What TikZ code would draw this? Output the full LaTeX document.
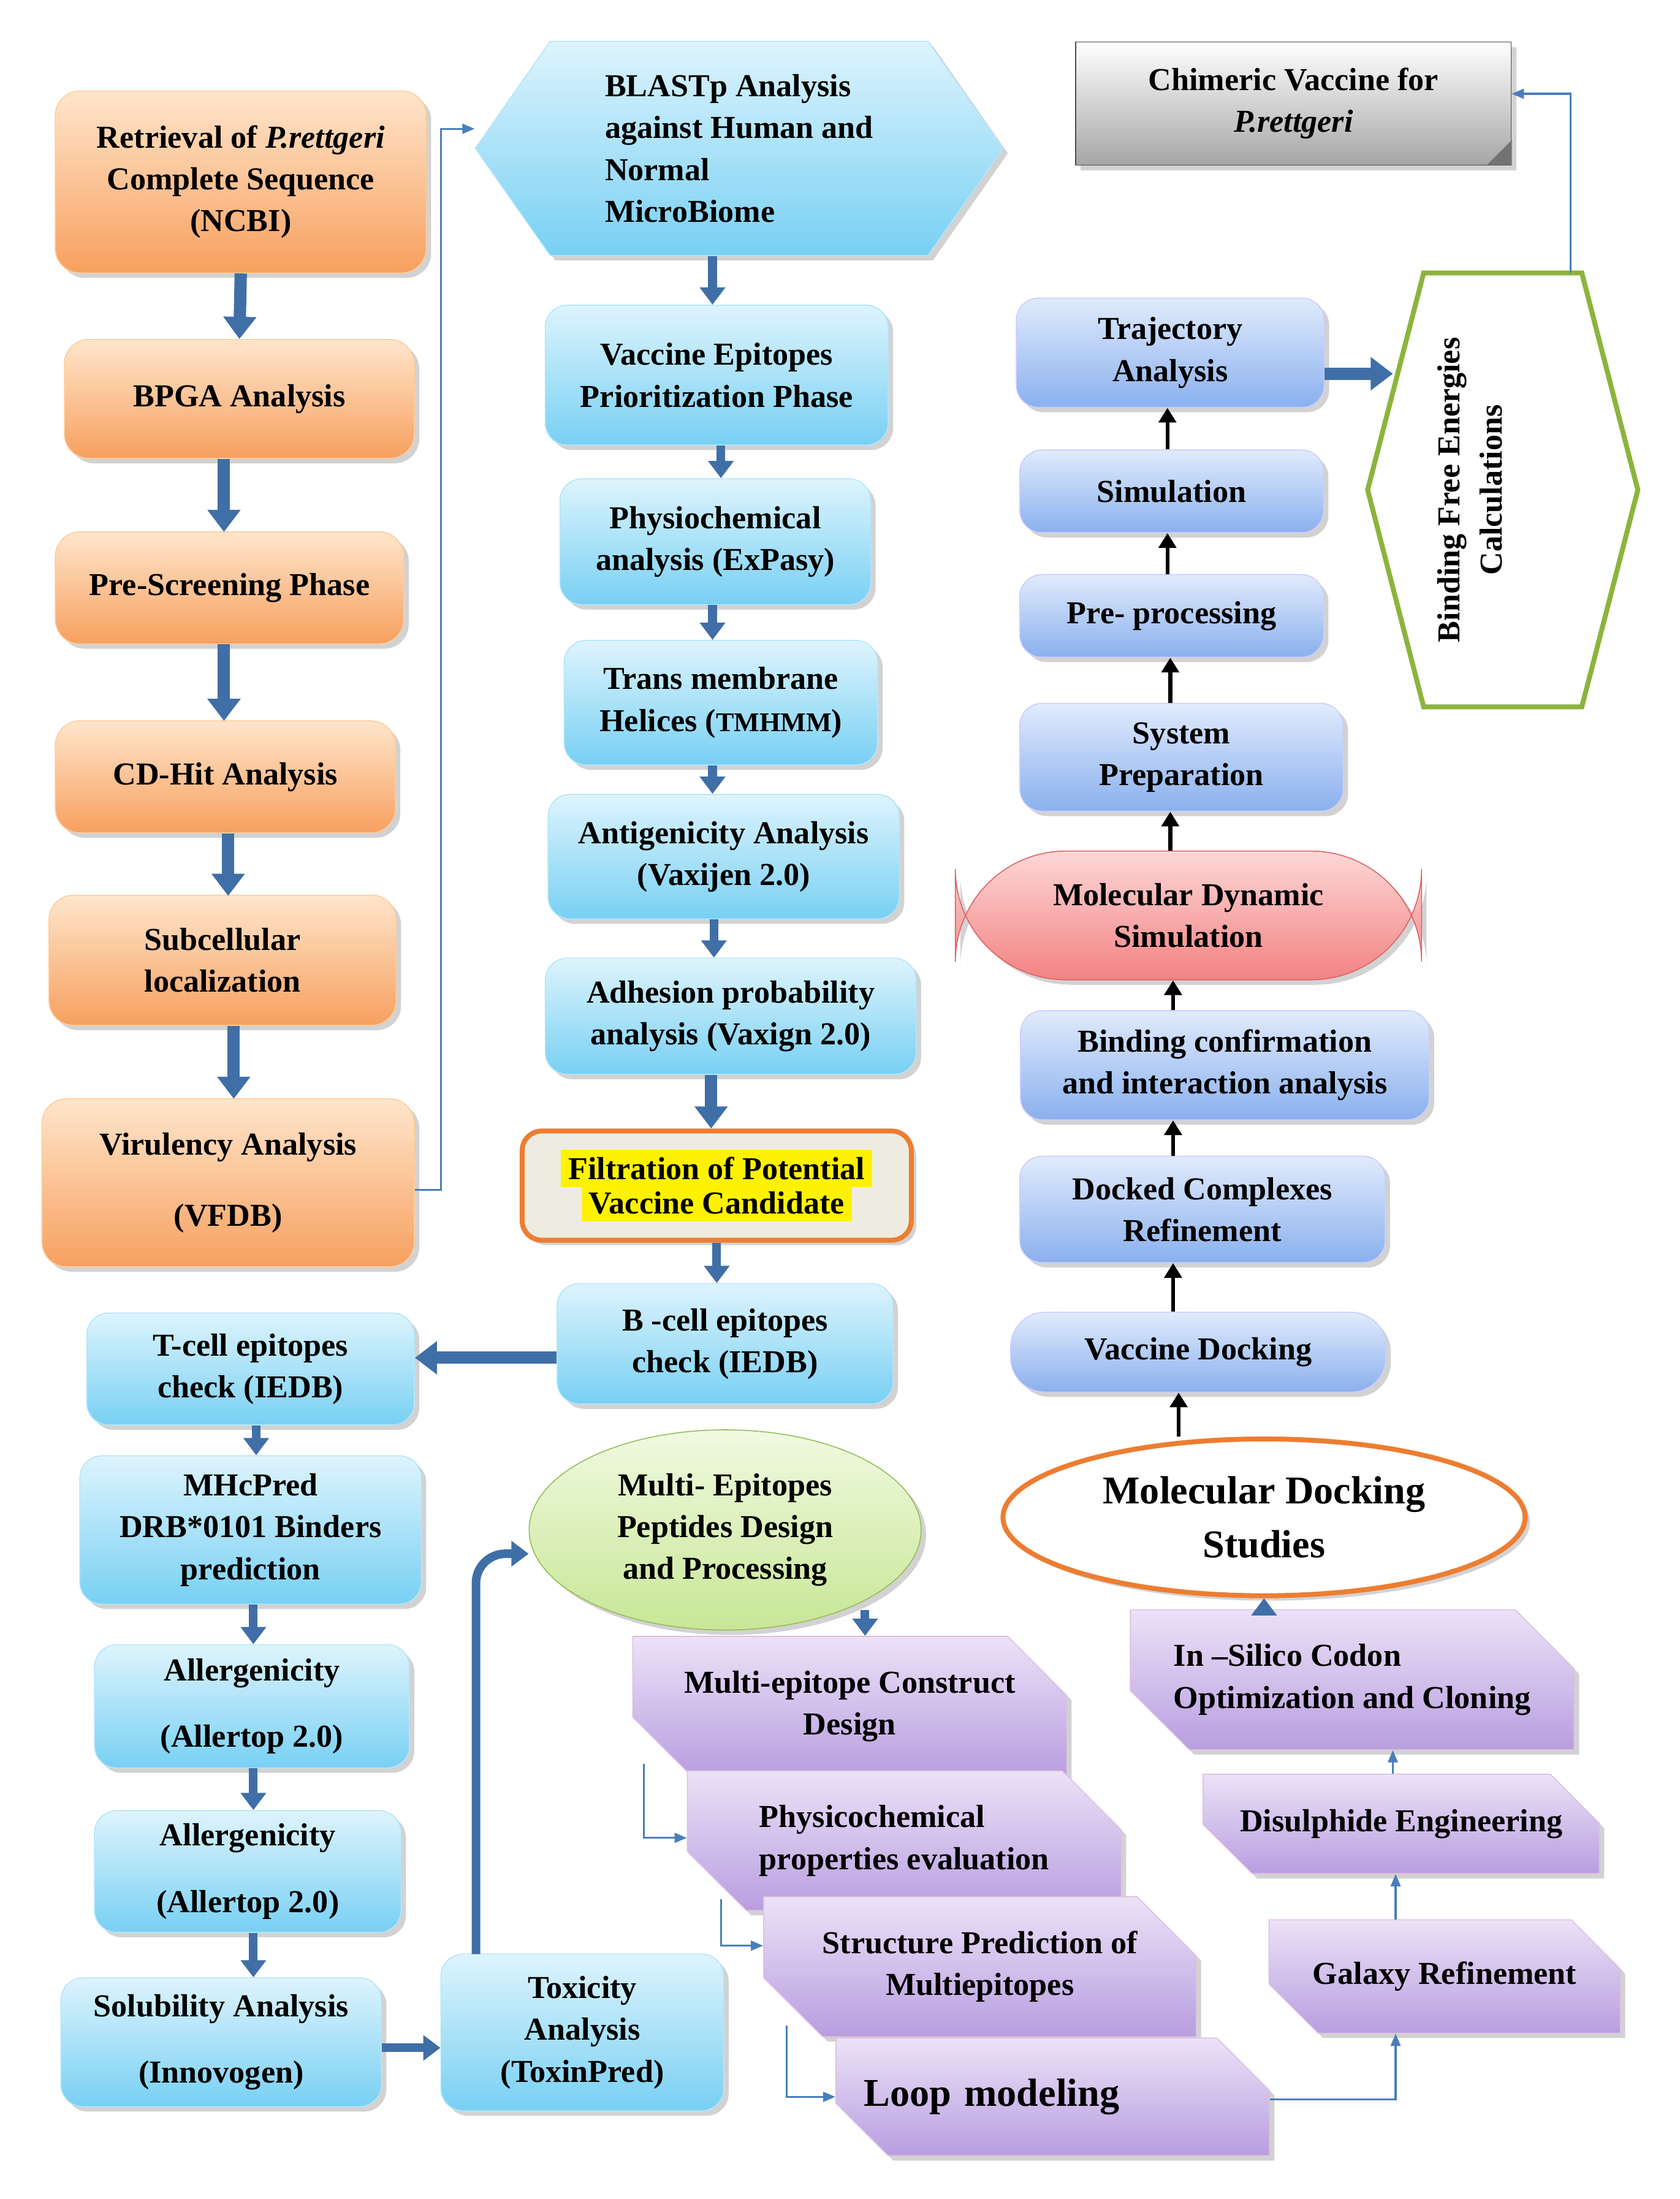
\documentclass[tikz,border=0pt]{standalone}
\usepackage{fontspec}
\setmainfont{Liberation Serif}
\usetikzlibrary{shapes.geometric,shapes.symbols,shapes.misc,arrows.meta,shadows}
\definecolor{arrblue}{HTML}{3F6FA6}
\definecolor{linblue}{HTML}{4A7EBB}
\begin{document}
\begin{tikzpicture}[x=0.02cm,y=-0.02cm,
  every node/.style={font=\fontsize{13}{17}\selectfont\bfseries, align=center, inner sep=2pt},
  base/.style={draw=none, drop shadow={opacity=0.35,shadow xshift=2pt,shadow yshift=-2pt}},
  orb/.style={base, rounded corners=10pt, top color=orange!20, bottom color={rgb,255:red,247;green,160;blue,95}, draw=orange!40},
  cyb/.style={base, rounded corners=9pt, top color={rgb,255:red,222;green,244;blue,253}, bottom color={rgb,255:red,120;green,208;blue,243}, draw=cyan!30},
  blb/.style={base, rounded corners=9pt, top color={rgb,255:red,225;green,235;blue,252}, bottom color={rgb,255:red,138;green,176;blue,238}, draw=blue!20},
  pub/.style={base, chamfered rectangle, chamfered rectangle xsep=12pt, chamfered rectangle ysep=12pt, chamfered rectangle corners={north east,south west}, top color={rgb,255:red,236;green,226;blue,247}, bottom color={rgb,255:red,184;green,158;blue,224}, draw=violet!25},
  big/.style={draw=arrblue, line width=5pt, -{Triangle[length=9pt,width=13pt]}},
  med/.style={draw=arrblue, line width=3.5pt, -{Triangle[length=7pt,width=10pt]}},
  blk/.style={draw=black, line width=1.6pt, -{Triangle[length=6pt,width=7pt]}},
  thin/.style={draw=linblue, line width=0.8pt, -{Triangle[length=5pt,width=4pt]}}]
\useasboundingbox (0,0) rectangle (1200,1571);
\fill[white] (0,0) rectangle (1200,1571);

% left orange column
\node[orb, minimum width=265*0.02cm, minimum height=130*0.02cm] (r1) at (172,130) {Retrieval of \textit{P.rettgeri}\\Complete Sequence\\(NCBI)};
\node[orb, minimum width=250*0.02cm, minimum height=85*0.02cm] (r2) at (171,285) {BPGA Analysis};
\node[orb, minimum width=249*0.02cm, minimum height=80*0.02cm] (r3) at (164,420) {Pre-Screening Phase};
\node[orb, minimum width=243*0.02cm, minimum height=80*0.02cm] (r4) at (161,555) {CD-Hit Analysis};
\node[orb, minimum width=248*0.02cm, minimum height=93*0.02cm] (r5) at (159,686) {Subcellular\\localization};
\node[orb, minimum width=266*0.02cm, minimum height=120*0.02cm] (r6) at (163,845) {Virulency Analysis\\[12pt](VFDB)};
\draw[big] (r1.south) -- (r2.north);
\draw[big] (r2.south -| 160,0) -- (160,380);
\draw[big] (r3.south -| 160,0) -- (160,515);
\draw[big] (r4.south -| 163,0) -- (163,640);
\draw[big] (r5.south -| 167,0) -- (167,785);

% middle column
\node[base, signal, signal to=west and east, signal pointer angle=110, minimum width=377*0.02cm, minimum height=153*0.02cm, top color={rgb,255:red,222;green,244;blue,253}, bottom color={rgb,255:red,120;green,208;blue,243}, draw=cyan!30, align=left] (bl) at (528,106) {BLASTp Analysis\\against Human and\\Normal\\MicroBiome};
\draw[thin] (r6.east |- 0,850) -- (315,850) -- (315,92) -- (bl.west |- 0,92);
\node[cyb, minimum width=245*0.02cm, minimum height=100*0.02cm] (m1) at (512,268) {Vaccine Epitopes\\Prioritization Phase};
\node[cyb, minimum width=222*0.02cm, minimum height=90*0.02cm] (m2) at (511,387) {Physiochemical\\analysis (ExPasy)};
\node[cyb, minimum width=224*0.02cm, minimum height=89*0.02cm] (m3) at (515,502) {Trans membrane\\Helices ({\fontsize{11}{13}\selectfont TMHMM})};
\node[cyb, minimum width=251*0.02cm, minimum height=89*0.02cm] (m4) at (517,612) {Antigenicity Analysis\\(Vaxijen 2.0)};
\node[cyb, minimum width=265*0.02cm, minimum height=83*0.02cm] (m5) at (522,726) {Adhesion probability\\analysis (Vaxign 2.0)};
\node[base, rounded corners=8pt, draw={rgb,255:red,237;green,125;blue,49}, line width=2pt, fill={rgb,255:red,238;green,236;blue,225}, minimum width=278*0.02cm, minimum height=78*0.02cm] (fl) at (512,847) {\colorbox{yellow}{Filtration of Potential}\\[-3pt]\colorbox{yellow}{Vaccine Candidate}};
\node[cyb, minimum width=240*0.02cm, minimum height=86*0.02cm] (bc) at (518,960) {B -cell epitopes\\check (IEDB)};
\draw[med] (bl.south -| 509,0) -- (m1.north -| 509,0);
\draw[med] (m1.south -| 515,0) -- (m2.north -| 515,0);
\draw[med] (m2.south -| 509,0) -- (m3.north -| 509,0);
\draw[med] (m3.south -| 509,0) -- (m4.north -| 509,0);
\draw[med] (m4.south -| 510,0) -- (m5.north -| 510,0);
\draw[big] (m5.south -| 508,0) -- (fl.north -| 508,0);
\draw[med] (fl.south -| 512,0) -- (bc.north -| 512,0);

% lower left
\node[cyb, minimum width=234*0.02cm, minimum height=80*0.02cm] (t1) at (179,978) {T-cell epitopes\\check (IEDB)};
\draw[big] (bc.west |- 0,970) -- (t1.east |- 0,970);
\node[cyb, minimum width=244*0.02cm, minimum height=106*0.02cm] (t2) at (179,1093) {MHcPred\\DRB*0101 Binders\\prediction};
\node[cyb, minimum width=225*0.02cm, minimum height=88*0.02cm] (t3) at (180,1219) {Allergenicity\\[10pt](Allertop 2.0)};
\node[cyb, minimum width=219*0.02cm, minimum height=87*0.02cm] (t4) at (177,1337) {Allergenicity\\[10pt](Allertop 2.0)};
\node[cyb, minimum width=229*0.02cm, minimum height=92*0.02cm] (t5) at (158,1459) {Solubility Analysis\\[10pt](Innovogen)};
\node[cyb, minimum width=202*0.02cm, minimum height=112*0.02cm] (tx) at (416,1452) {Toxicity\\Analysis\\(ToxinPred)};
\draw[med] (t1.south -| 183,0) -- (t2.north -| 183,0);
\draw[med] (t2.south -| 181,0) -- (t3.north -| 181,0);
\draw[med] (t3.south -| 181,0) -- (t4.north -| 181,0);
\draw[med] (t4.south -| 181,0) -- (t5.north -| 181,0);
\draw[med] (t5.east |- 0,1463) -- (tx.west |- 0,1463);
\node[base, ellipse, draw={rgb,255:red,150;green,190;blue,90}, top color={rgb,255:red,240;green,250;blue,225}, bottom color={rgb,255:red,200;green,230;blue,150}, minimum width=280*0.02cm, minimum height=143*0.02cm] (me) at (518,1093) {Multi- Epitopes\\Peptides Design\\and Processing};
\draw[med, rounded corners=12pt] (340,1396) -- (340,1110) -- (me.west |- 0,1110);

% purple
\node[pub, minimum width=310*0.02cm, minimum height=82*0.02cm] (p1) at (607,1219) {Multi-epitope Construct\\Design};
\node[pub, minimum width=310*0.02cm, minimum height=84*0.02cm, align=left] (p2) at (646,1315) {Physicochemical\\properties evaluation};
\node[pub, minimum width=309*0.02cm, minimum height=84*0.02cm] (p3) at (700,1405) {Structure Prediction of\\Multiepitopes};
\node[pub, minimum width=302*0.02cm, minimum height=84*0.02cm, font=\fontsize{16}{19}\selectfont\bfseries, text width=270*0.02cm, align=left] (p4) at (752,1498) {Loop modeling};
\draw[med] (618,1150) -- (p1.north -| 618,0);
\draw[thin] (460,1260) -- (460,1313) -- (p2.west |- 0,1313);
\draw[thin] (515,1357) -- (515,1390) -- (p3.west |- 0,1390);
\draw[thin] (562,1447) -- (562,1498) -- (p4.west |- 0,1498);
\node[pub, minimum width=251*0.02cm, minimum height=81*0.02cm] (g1) at (1032,1412) {Galaxy Refinement};
\node[pub, minimum width=283*0.02cm, minimum height=71*0.02cm] (g2) at (1001,1303) {Disulphide Engineering};
\node[pub, minimum width=317*0.02cm, minimum height=85*0.02cm, align=left] (g3) at (966,1200) {In --Silico Codon\\Optimization and Cloning};
\draw[thin] (p4.east |- 0,1500) -- (997,1500) -- (g1.south -| 997,0);
\draw[thin] (g1.north -| 997,0) -- (g2.south -| 997,0);
\draw[thin] (g2.north -| 995,0) -- (g3.south -| 995,0);
\node[base, ellipse, draw={rgb,255:red,237;green,125;blue,49}, line width=2pt, fill=white, minimum width=373*0.02cm, minimum height=112*0.02cm, font=\fontsize{16}{22}\selectfont\bfseries] (md) at (903,1084) {Molecular Docking\\Studies};
\draw[med] (g3.north -| 903,0) -- (md.south);

% right column
\node[blb, rounded corners=14pt, minimum width=268*0.02cm, minimum height=57*0.02cm] (v1) at (856,966) {Vaccine Docking};
\node[blb, minimum width=261*0.02cm, minimum height=76*0.02cm] (v2) at (859,864) {Docked Complexes\\Refinement};
\node[blb, minimum width=292*0.02cm, minimum height=78*0.02cm] (v3) at (875,761) {Binding confirmation\\and interaction analysis};
\node[base, rounded corners=45pt, draw={rgb,255:red,220;green,100;blue,100}, top color={rgb,255:red,253;green,215;blue,215}, bottom color={rgb,255:red,243;green,130;blue,130}, minimum width=333*0.02cm, minimum height=92*0.02cm] (v4) at (849,654) {Molecular Dynamic\\Simulation};
\node[blb, minimum width=231*0.02cm, minimum height=77*0.02cm] (v5) at (844,541) {System\\Preparation};
\node[blb, minimum width=217*0.02cm, minimum height=59*0.02cm] (v6) at (837,440) {Pre- processing};
\node[blb, minimum width=217*0.02cm, minimum height=59*0.02cm] (v7) at (837,351) {Simulation};
\node[blb, minimum width=220*0.02cm, minimum height=78*0.02cm] (v8) at (836,252) {Trajectory\\Analysis};
\draw[blk] (md.north -| 842,0) -- (v1.south -| 842,0);
\draw[blk] (v1.north -| 838,0) -- (v2.south -| 838,0);
\draw[blk] (v2.north -| 838,0) -- (v3.south -| 838,0);
\draw[blk] (v3.north -| 838,0) -- (v4.south -| 838,0);
\draw[blk] (v4.north -| 836,0) -- (v5.south -| 836,0);
\draw[blk] (v5.north -| 836,0) -- (v6.south -| 836,0);
\draw[blk] (v6.north -| 834,0) -- (v7.south -| 834,0);
\draw[blk] (v7.north -| 834,0) -- (v8.south -| 834,0);

\node[regular polygon, regular polygon sides=6, rotate=0, draw={rgb,255:red,140;green,180;blue,60}, line width=2pt, fill=white, minimum size=10pt, inner sep=0pt, xscale=193/310*1.0, yscale=1] (bf) at (1073,350) {};
\draw[draw={rgb,255:red,140;green,180;blue,60}, line width=2pt, fill=white] (1017,195) -- (1130,195) -- (1170,350) -- (1130,505) -- (1017,505) -- (977,350) -- cycle;
\node[rotate=90] (bft) at (1050,350) {Binding Free Energies\\Calculations};
\draw[big] (v8.east |- 0,267) -- (995,267);
\node[base, draw=black!70, top color=white, bottom color=black!35, minimum width=311*0.02cm, minimum height=88*0.02cm] (ch) at (924,74) {Chimeric Vaccine for\\\textit{P.rettgeri}};
\fill[black!55] (1080,100) -- (1080,118) -- (1062,118) -- cycle;
\draw[thin] (1122,195) -- (1122,67) -- (ch.east |- 0,67);
\end{tikzpicture}
\end{document}
